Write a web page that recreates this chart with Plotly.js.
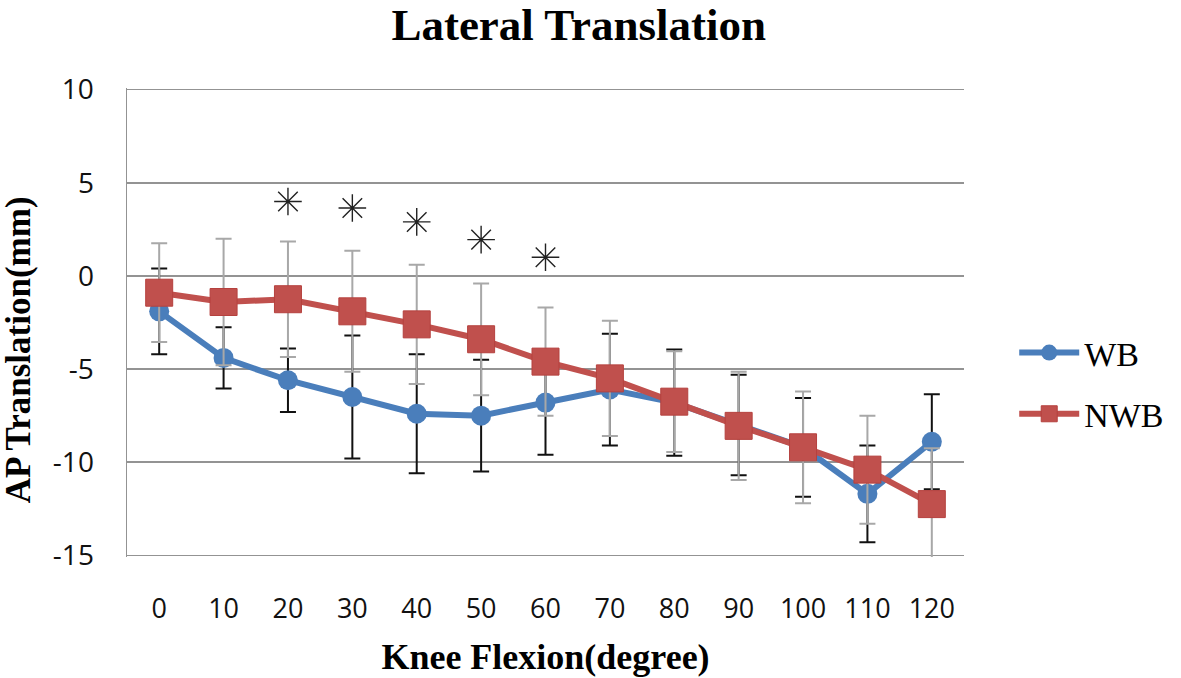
<!DOCTYPE html>
<html>
<head>
<meta charset="utf-8">
<script src="https://cdn.plot.ly/plotly-3.0.1.min.js"></script>
<style>html,body{margin:0;padding:0;background:#fff;}#chart{width:1181px;height:678px;}</style>
</head>
<body>
<div id="chart"></div>
<script>
// Knee flexion angle categories (degrees)
const flexion = ['0','10','20','30','40','50','60','70','80','90','100','110','120'];

// Weight-bearing (WB) lateral AP translation, mean and SD (mm)
const wbMean = [-1.9, -4.4, -5.6, -6.5, -7.4, -7.5, -6.8, -6.1, -6.8, -8.0, -9.2, -11.7, -8.9];
const wbSD   = [ 2.3,  1.65, 1.7,  3.3,  3.2,  3.0,  2.8,  3.0,  2.85, 2.7, 2.65, 2.6,  2.55];

// Non-weight-bearing (NWB) lateral AP translation, mean and SD (mm)
const nwbMean = [-0.9, -1.4, -1.25, -1.9, -2.6, -3.4, -4.6, -5.5, -6.75, -8.05, -9.2, -10.4, -12.25];
const nwbSD   = [ 2.65, 3.4, 3.1,  3.25, 3.2,  3.0,  2.9,  3.1,  2.7,  2.9,  3.0,  2.9,  3.0];

// Significance markers
const sigFlexion = ['20','30','40','50','60'];
const sigY = [4.0, 3.65, 2.9, 1.95, 1.0];

// Axis tick values
const yTicks = [-15, -10, -5, 0, 5, 10];
const yTickText = ['-15', '-10', '-5', '0', '5', '10'];

const serif = 'Liberation Serif, Times New Roman, serif';
const sans = 'Open Sans, Liberation Sans, sans-serif';

const traces = [
  {
    x: flexion, y: wbMean, name: 'WB', type: 'scatter', mode: 'lines+markers',
    legendgroup: 'wb',
    line: {color: '#4a7ebb', width: 6},
    marker: {symbol: 'circle', size: 20, color: '#4a7ebb'},
    error_y: {type: 'data', array: wbSD, visible: true, color: '#111111', thickness: 2, width: 8}
  },
  {
    x: flexion, y: nwbMean, name: 'NWB', type: 'scatter', mode: 'lines+markers',
    legendgroup: 'nwb',
    line: {color: '#c0504d', width: 6},
    marker: {symbol: 'square', size: 27, color: '#c0504d', line: {color: '#b5413e', width: 1}},
    error_y: {type: 'data', array: nwbSD, visible: true, color: '#a8a8a8', thickness: 2, width: 8}
  },
  {
    x: sigFlexion, y: sigY, type: 'scatter', mode: 'markers', showlegend: false,
    hoverinfo: 'skip',
    marker: {symbol: 'asterisk-open', size: 23, color: '#222', line: {color: '#222', width: 1.4}}
  }
];

const layout = {
  width: 1181, height: 678,
  paper_bgcolor: '#ffffff', plot_bgcolor: '#ffffff',
  margin: {l: 127, r: 214, t: 88, b: 121},
  title: {
    text: 'Lateral Translation',
    font: {family: serif, size: 45, color: '#000', weight: 'bold'},
    xref: 'container', x: 0.49, xanchor: 'center',
    yref: 'container', y: 0.964, yanchor: 'middle'
  },
  xaxis: {
    type: 'category', categoryorder: 'array', categoryarray: flexion,
    range: [-0.5, 12.5],
    showgrid: false, zeroline: false, showline: false,
    ticks: '', ticklabelstandoff: 33,
    tickfont: {family: sans, size: 27, color: '#111'},
    title: {text: 'Knee Flexion(degree)', standoff: 18,
            font: {family: serif, size: 36, color: '#000', weight: 'bold'}}
  },
  yaxis: {
    range: [-15.09, 10.09], tickvals: yTicks, ticktext: yTickText,
    showgrid: true, gridcolor: '#939393', gridwidth: 1.5,
    zeroline: false, showline: true, linecolor: '#939393', linewidth: 1.5,
    ticks: '', ticklabelstandoff: 26,
    tickfont: {family: sans, size: 28, color: '#111'}
  },
  annotations: [{
    text: 'AP Translation(mm)', textangle: -90, showarrow: false,
    xref: 'paper', yref: 'paper', x: -0.13, y: 0.441,
    xanchor: 'center', yanchor: 'middle',
    font: {family: serif, size: 35, color: '#000', weight: 'bold'}
  }],
  legend: {
    x: 1.06, xanchor: 'left', y: 0.37, yanchor: 'middle',
    font: {family: serif, size: 34, color: '#000'},
    tracegroupgap: 14, itemwidth: 60,
    bgcolor: 'rgba(0,0,0,0)'
  },
  showlegend: true
};

Plotly.newPlot('chart', traces, layout, {displayModeBar: false, staticPlot: true});
</script>
</body>
</html>
